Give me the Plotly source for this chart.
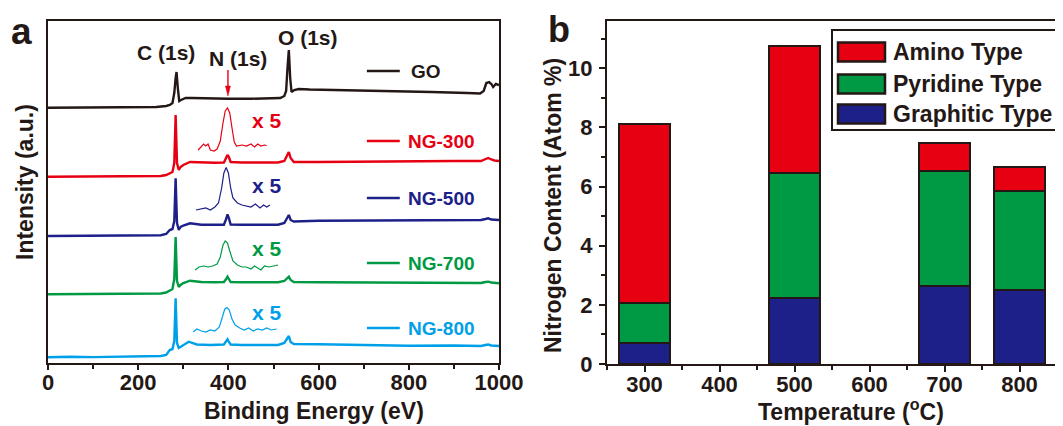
import plotly.graph_objects as go

W, H = 1063, 426          # target screenshot size
OFF = 8                   # default page body margin that shifts the plot div
FW, FH = W - OFF, H - OFF # figure size so that the visible window is filled
FONT = "Liberation Sans"
INK = "#231815"
RED, NAVY, GREEN, SKY = "#E60012", "#1D2088", "#009944", "#00A0E9"

# ---------------- panel a : XPS survey spectra (offset intensities, a.u.) ----------------
go_be = [0, 50, 100, 150, 200, 240, 262, 270, 276, 280, 283, 285, 288, 291, 295, 305, 320, 350, 400,
         450, 500, 515, 524, 528, 531, 534, 537, 540, 546, 556, 580, 650, 750, 850, 930, 958, 966,
         972, 978, 983, 987, 993, 1000]
go_int = [255.3, 255.5, 255.2, 255.6, 255.4, 256, 257, 258, 260, 270, 285, 291, 274, 262, 263, 265,
          265, 264.5, 264.3, 264.2, 264.3, 265, 267, 272, 295, 313, 285, 271, 273, 274, 273.5, 273,
          272, 271, 270, 269.5, 272, 280, 281, 279, 276, 279, 278]

ng300_be = [0, 50, 100, 150, 200, 250, 262, 270, 276, 280, 283, 286, 290, 294, 300, 315, 340, 370,
            390, 395, 398, 401, 405, 430, 470, 510, 524, 530, 534, 538, 545, 600, 700, 800, 900,
            960, 970, 976, 983, 990, 1000]
ng300_int = [186.3, 186.5, 186.2, 186.6, 186.4, 187, 188, 190, 191, 200, 248, 200, 193, 196, 198, 201,
             200.5, 200.3, 200.5, 205, 208, 206, 201, 200.5, 200.3, 200.5, 202, 207, 211, 205, 201,
             201, 201.5, 201.5, 202, 202, 204, 205, 203.5, 202.5, 202]

ng500_be = [0, 50, 100, 150, 200, 250, 262, 270, 276, 280, 283, 286, 290, 294, 300, 315, 340, 370,
            390, 395, 398, 401, 405, 430, 470, 510, 524, 530, 534, 538, 545, 600, 700, 800, 900,
            960, 970, 976, 983, 990, 1000]
ng500_int = [127, 127.2, 127, 127.3, 127.2, 127.8, 129, 133, 134, 142, 184.7, 140, 133, 136, 137.5,
             139.7, 138.2, 138, 138.3, 144, 148.7, 145, 138.5, 138.2, 138, 138.3, 140, 145, 148, 143,
             141.5, 142.3, 142.5, 142.8, 143, 143, 144, 144.7, 143.5, 143, 143]

ng700_be = [0, 50, 100, 150, 200, 250, 262, 270, 276, 280, 283, 286, 290, 294, 300, 315, 340, 370,
            390, 395, 398, 401, 405, 430, 470, 510, 524, 530, 534, 538, 545, 600, 700, 800, 900,
            960, 970, 976, 983, 990, 1000]
ng700_int = [68.7, 68.9, 68.7, 69, 68.9, 69.5, 70.5, 73, 74, 84, 126, 82, 76, 78, 80, 82.3, 81, 80.7,
             81, 84, 86.3, 84, 81, 80.7, 80.5, 80.7, 82, 85, 86.3, 83, 81, 80.7, 80.5, 80.2, 80, 80,
             81, 81.3, 80.5, 80, 79.7]

ng800_be = [0, 50, 100, 150, 200, 250, 262, 270, 276, 280, 283, 286, 290, 294, 300, 312, 330, 360,
            390, 395, 398, 401, 405, 430, 470, 510, 524, 530, 534, 538, 545, 600, 700, 800, 900,
            960, 970, 976, 983, 990, 1000]
ng800_int = [5.7, 6.2, 5.9, 6.4, 6.6, 7, 8, 13, 14, 22, 64.7, 20, 15, 16.3, 18, 21.3, 18.5, 18, 18.5,
             21.5, 23.7, 21, 18.5, 18, 18.3, 18, 20, 24, 27, 21, 19, 18.7, 17.8, 17.3, 17.5, 17,
             18, 18.5, 17.5, 17.2, 17]

# N(1s) x5 insets
in300_be = [333, 340, 345, 350, 355, 360, 368, 375, 382, 388, 393, 398, 403, 408, 413, 418, 430,
            440, 450, 458, 465, 472, 480, 485]
in300_int = [213, 217, 219, 217, 219, 213, 212, 214, 222, 240, 252, 255, 250, 235, 221, 217, 218,
             217, 219, 216, 219, 217, 218, 217.5]
in500_be = [328, 340, 350, 360, 370, 378, 385, 390, 395, 400, 405, 410, 420, 430, 440, 450, 460,
            470, 478, 485, 492]
in500_int = [153, 154, 155, 153, 156, 160, 175, 190, 195.5, 190, 175, 165, 160, 158, 157, 156,
             159, 155, 158, 156, 158]
in700_be = [326, 335, 345, 355, 365, 375, 382, 388, 393, 398, 403, 410, 420, 430, 440, 450, 458,
            465, 472, 480, 490, 500, 510]
in700_int = [93, 96, 97, 96, 97, 99, 106, 118, 122, 120, 112, 102, 98, 96, 96, 94, 97, 95, 93, 97,
             96, 97, 98]
in800_be = [322, 330, 340, 350, 360, 370, 380, 386, 392, 397, 402, 408, 415, 425, 435, 445, 455,
            465, 475, 485, 495, 507]
in800_int = [31, 34, 32, 31, 33, 32, 36, 45, 54, 55.5, 53, 44, 38, 35, 33, 35, 32, 34, 33, 35, 33,
             34]

a_xticks = [0, 200, 400, 600, 800, 1000]

# ---------------- panel b : nitrogen species ----------------
temps = [300, 500, 700, 800]
graphitic = [0.72, 2.22, 2.64, 2.50]
pyridine = [1.34, 4.25, 3.89, 3.35]
amino = [6.04, 4.30, 0.95, 0.81]
b_xticks = [300, 400, 500, 600, 700, 800]
b_yticks = [0, 2, 4, 6, 8, 10]


def px(x):
    """screen pixel x -> paper fraction"""
    return (x - OFF) / FW


def py(y):
    """screen pixel y -> paper fraction"""
    return 1 - (y - OFF) / FH


fig = go.Figure()

main = [(go_be, go_int, INK, "GO"), (ng300_be, ng300_int, RED, "NG-300"),
        (ng500_be, ng500_int, NAVY, "NG-500"), (ng700_be, ng700_int, GREEN, "NG-700"),
        (ng800_be, ng800_int, SKY, "NG-800")]
for xs, ys, c, n in main:
    fig.add_trace(go.Scatter(x=xs, y=ys, mode="lines", name=n, line=dict(color=c, width=2.4),
                             xaxis="x", yaxis="y", showlegend=False))
insets = [(in300_be, in300_int, RED), (in500_be, in500_int, NAVY),
          (in700_be, in700_int, GREEN), (in800_be, in800_int, SKY)]
for xs, ys, c in insets:
    fig.add_trace(go.Scatter(x=xs, y=ys, mode="lines", line=dict(color=c, width=1.2),
                             xaxis="x", yaxis="y", showlegend=False, hoverinfo="skip"))

bar_line = dict(color=INK, width=2.5)
for vals, c, n in [(graphitic, NAVY, "Graphitic Type"), (pyridine, GREEN, "Pyridine Type"),
                   (amino, RED, "Amino Type")]:
    fig.add_trace(go.Bar(x=temps, y=vals, width=69, name=n, marker=dict(color=c, line=bar_line),
                         xaxis="x2", yaxis="y2", showlegend=False))

tickfont = dict(family=FONT, size=22, color=INK, weight="bold")

common = dict(showline=True, linecolor=INK, linewidth=2.2, showgrid=False, zeroline=False,
              automargin=False)
fig.update_layout(
    width=FW, height=FH, margin=dict(l=0, r=0, t=0, b=0, autoexpand=False),
    paper_bgcolor="white", plot_bgcolor="white", barmode="stack", bargap=0, showlegend=False,
    xaxis=dict(domain=[px(48), px(499)], range=[0, 1000], tickvals=a_xticks, mirror=True,
               ticks="outside", ticklen=5, tickwidth=2, tickcolor=INK, ticklabelstandoff=-7,
               minor=dict(dtick=100, ticks="outside", ticklen=4, tickwidth=2, tickcolor=INK),
               tickfont=tickfont, **common),
    yaxis=dict(domain=[py(363), py(21)], range=[0, 342], showticklabels=False, ticks="",
               mirror=True, **common),
    xaxis2=dict(domain=[px(607), 1.0], range=[250, 858], tickvals=b_xticks, anchor="y2",
                mirror=True, ticks="outside", ticklen=6, tickwidth=2, tickcolor=INK,
                ticklabelstandoff=-7,
                minor=dict(tickvals=[250, 350, 450, 550, 650, 750, 850], ticks="outside",
                           ticklen=4, tickwidth=2, tickcolor=INK),
                tickfont=tickfont, **common),
    yaxis2=dict(domain=[py(364), py(21)], range=[0, 11.6], tickvals=b_yticks, anchor="x2",
                mirror=False, ticks="outside", ticklen=6, tickwidth=2, tickcolor=INK,
                ticklabelstandoff=2,
                minor=dict(dtick=1, ticks="outside", ticklen=4, tickwidth=2, tickcolor=INK),
                tickfont=tickfont, **common),
)

ann = []
shapes = []


def txt(x, y, s, size, color=INK, xanchor="center", xref="paper", yref="paper", angle=0):
    ann.append(dict(x=x, y=y, xref=xref, yref=yref, text=s, showarrow=False, xanchor=xanchor,
                    yanchor="middle", textangle=angle,
                    font=dict(family=FONT, size=size, color=color, weight="bold")))


# axis titles
txt(px(314), py(411), "Binding Energy (eV)", 23)
txt(px(25), py(182), "Intensity (a.u.)", 23, angle=-90)
txt(px(851), py(410), "Temperature (<sup>o</sup>C)", 23)
txt(px(553), py(206), "Nitrogen Content (Atom %)", 23, angle=-90)

# panel letters
txt(px(21), py(32), "a", 37)
txt(px(559), py(30), "b", 36)

# peak labels (data coords of panel a)
txt(262, 311, "C (1s)", 21, xref="x", yref="y")
txt(421, 305, "N (1s)", 21, xref="x", yref="y")
txt(576, 326, "O (1s)", 21, xref="x", yref="y")

# red arrow pointing at the N(1s) position
shapes.append(dict(type="line", xref="x", yref="y", x0=399, x1=399, y0=293, y1=274,
                   line=dict(color=RED, width=1.4)))
shapes.append(dict(type="path", xref="x", yref="y", path="M 393.5,277 L 404.5,277 L 399,267 Z",
                   fillcolor=RED, line=dict(color=RED, width=0.5)))

# x5 labels
for yv, c in [(243, RED), (178, NAVY), (115, GREEN), (51, SKY)]:
    txt(486, yv, "x 5", 21, color=c, xref="x", yref="y")

# panel a legend
for yv, c, n in [(292, INK, "GO"), (222, RED, "NG-300"), (165, NAVY, "NG-500"),
                 (100, GREEN, "NG-700"), (35, SKY, "NG-800")]:
    shapes.append(dict(type="line", xref="x", yref="y", x0=707, x1=780, y0=yv, y1=yv,
                       line=dict(color=c, width=2.4)))
    txt(800 if n == "GO" else 793, yv, n, 19, color=c, xanchor="left", xref="x", yref="y")

# panel b legend
shapes.append(dict(type="rect", xref="paper", yref="paper", x0=px(832), x1=px(1060),
                   y0=py(130), y1=py(30), line=dict(color=INK, width=2), fillcolor="white",
                   layer="above"))
for yc, c, n in [(52, RED, "Amino Type"), (84, GREEN, "Pyridine Type"),
                 (114, NAVY, "Graphitic Type")]:
    shapes.append(dict(type="rect", xref="paper", yref="paper", x0=px(838), x1=px(885),
                       y0=py(yc + 9.5), y1=py(yc - 9.5), line=dict(color=INK, width=2.5),
                       fillcolor=c, layer="above"))
    txt(px(891), py(yc), n, 23, xanchor="left")

fig.update_layout(annotations=ann, shapes=shapes)
fig.write_html("out.html")
